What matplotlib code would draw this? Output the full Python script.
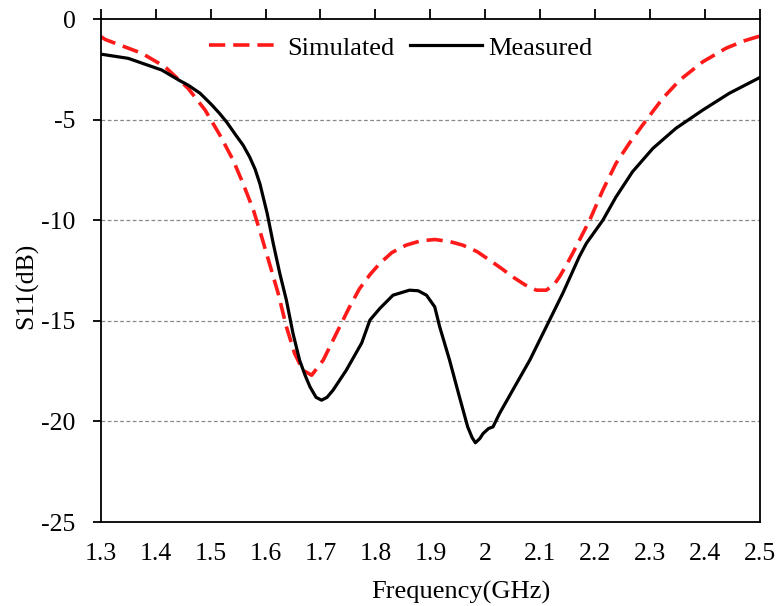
import matplotlib
matplotlib.use("Agg")
import matplotlib.pyplot as plt

# S11 curves (GHz, dB)
sim_freq = [1.30, 1.308, 1.34, 1.375, 1.417, 1.459, 1.49, 1.517, 1.541, 1.559,
            1.578, 1.593, 1.608, 1.623, 1.638, 1.653, 1.668, 1.684, 1.705, 1.729,
            1.753, 1.771, 1.79, 1.808, 1.83, 1.856, 1.882, 1.908, 1.935, 1.959,
            1.985, 2.008, 2.03, 2.05, 2.072, 2.093, 2.111, 2.125, 2.135, 2.148,
            2.159, 2.19, 2.214, 2.238, 2.262, 2.293, 2.323, 2.354, 2.396, 2.438,
            2.47, 2.5]
sim_s11 = [-0.85, -1.0, -1.33, -1.69, -2.36, -3.43, -4.51, -5.76, -7.0, -8.16,
           -9.49, -10.82, -12.22, -13.63, -15.29, -16.62, -17.45, -17.7, -16.95, -15.62,
           -14.3, -13.4, -12.7, -12.14, -11.6, -11.23, -11.02, -10.95, -11.05, -11.23,
           -11.55, -11.98, -12.4, -12.81, -13.2, -13.47, -13.47, -13.2, -12.81, -12.2,
           -11.64, -9.99, -8.49, -7.16, -6.17, -5.01, -3.93, -3.02, -2.11, -1.44,
           -1.08, -0.83]

meas_freq = [1.30, 1.35, 1.411, 1.444, 1.459, 1.481, 1.502, 1.517, 1.529, 1.547,
             1.559, 1.571, 1.581, 1.59, 1.603, 1.614, 1.626, 1.638, 1.65, 1.662,
             1.672, 1.681, 1.692, 1.702, 1.712, 1.723, 1.747, 1.775, 1.79, 1.808,
             1.832, 1.862, 1.878, 1.893, 1.908, 1.917, 1.935, 1.953, 1.968, 1.976,
             1.982, 1.99, 1.996, 2.006, 2.014, 2.026, 2.05, 2.081, 2.111, 2.141,
             2.171, 2.184, 2.214, 2.238, 2.268, 2.305, 2.347, 2.396, 2.444, 2.5]
meas_s11 = [-1.73, -1.94, -2.52, -3.05, -3.27, -3.68, -4.25, -4.7, -5.1, -5.8,
            -6.25, -6.84, -7.45, -8.2, -9.65, -11.14, -12.64, -13.97, -15.62, -16.95,
            -17.7, -18.28, -18.8, -18.94, -18.8, -18.44, -17.45, -16.1, -14.96, -14.38,
            -13.72, -13.47, -13.5, -13.72, -14.3, -15.29, -16.95, -18.78, -20.27, -20.8,
            -21.06, -20.85, -20.6, -20.35, -20.27, -19.6, -18.44, -16.95, -15.29, -13.63,
            -11.81, -11.14, -9.99, -8.83, -7.58, -6.42, -5.42, -4.51, -3.68, -2.89]

x_ticks = [1.3, 1.4, 1.5, 1.6, 1.7, 1.8, 1.9, 2.0, 2.1, 2.2, 2.3, 2.4, 2.5]
x_labels = ["1.3", "1.4", "1.5", "1.6", "1.7", "1.8", "1.9", "2",
            "2.1", "2.2", "2.3", "2.4", "2.5"]
y_ticks = [0, -5, -10, -15, -20, -25]

plt.rcParams["font.family"] = ["Liberation Serif", "DejaVu Serif"]
plt.rcParams["axes.unicode_minus"] = False

fig = plt.figure(figsize=(7.77, 6.06), dpi=100)
ax = fig.add_axes([0.1296, 0.1386, 0.8485, 0.8295])

ax.plot(sim_freq, sim_s11, color="#ff1a1a", lw=2.6, ls=(0, (4.5, 2.2)),
        label="Simulated")
ax.plot(meas_freq, meas_s11, color="black", lw=2.3, label="Measured")

ax.set_xlim(1.3, 2.5)
ax.set_ylim(-25, 0)
ax.set_xticks(x_ticks)
ax.set_xticklabels(x_labels)
ax.set_yticks(y_ticks)
ax.set_yticklabels([str(v) for v in y_ticks])

# dashed grey grid only between the spines
for v in [-5, -10, -15, -20]:
    ax.axhline(v, color="#888888", lw=0.9, ls=(0, (3, 2)), zorder=0)

for s in ax.spines.values():
    s.set_linewidth(1.3)

# excel style: x ticks sit on the top (0 dB) axis, labels at the bottom
ax.tick_params(axis="x", top=True, bottom=False, labeltop=False,
               labelbottom=True, direction="out", length=7, width=1.3,
               pad=8, labelsize=18.5)
ax.tick_params(axis="y", direction="out", length=6, width=1.3,
               pad=12, labelsize=18.5)

ax.set_xlabel("Frequency(GHz)", fontsize=19, labelpad=0)
ax.xaxis.set_label_coords(0.546, -0.118)
ax.set_ylabel("S11(dB)", fontsize=18.5)
ax.yaxis.set_label_coords(-0.095, 0.47)

ax.legend(loc="center", bbox_to_anchor=(0.4555, 0.943), ncol=2,
          frameon=False, fontsize=19, handlelength=2.7, handletextpad=0.25,
          columnspacing=0.6, borderpad=0)

fig.savefig("out.png", dpi=100)
